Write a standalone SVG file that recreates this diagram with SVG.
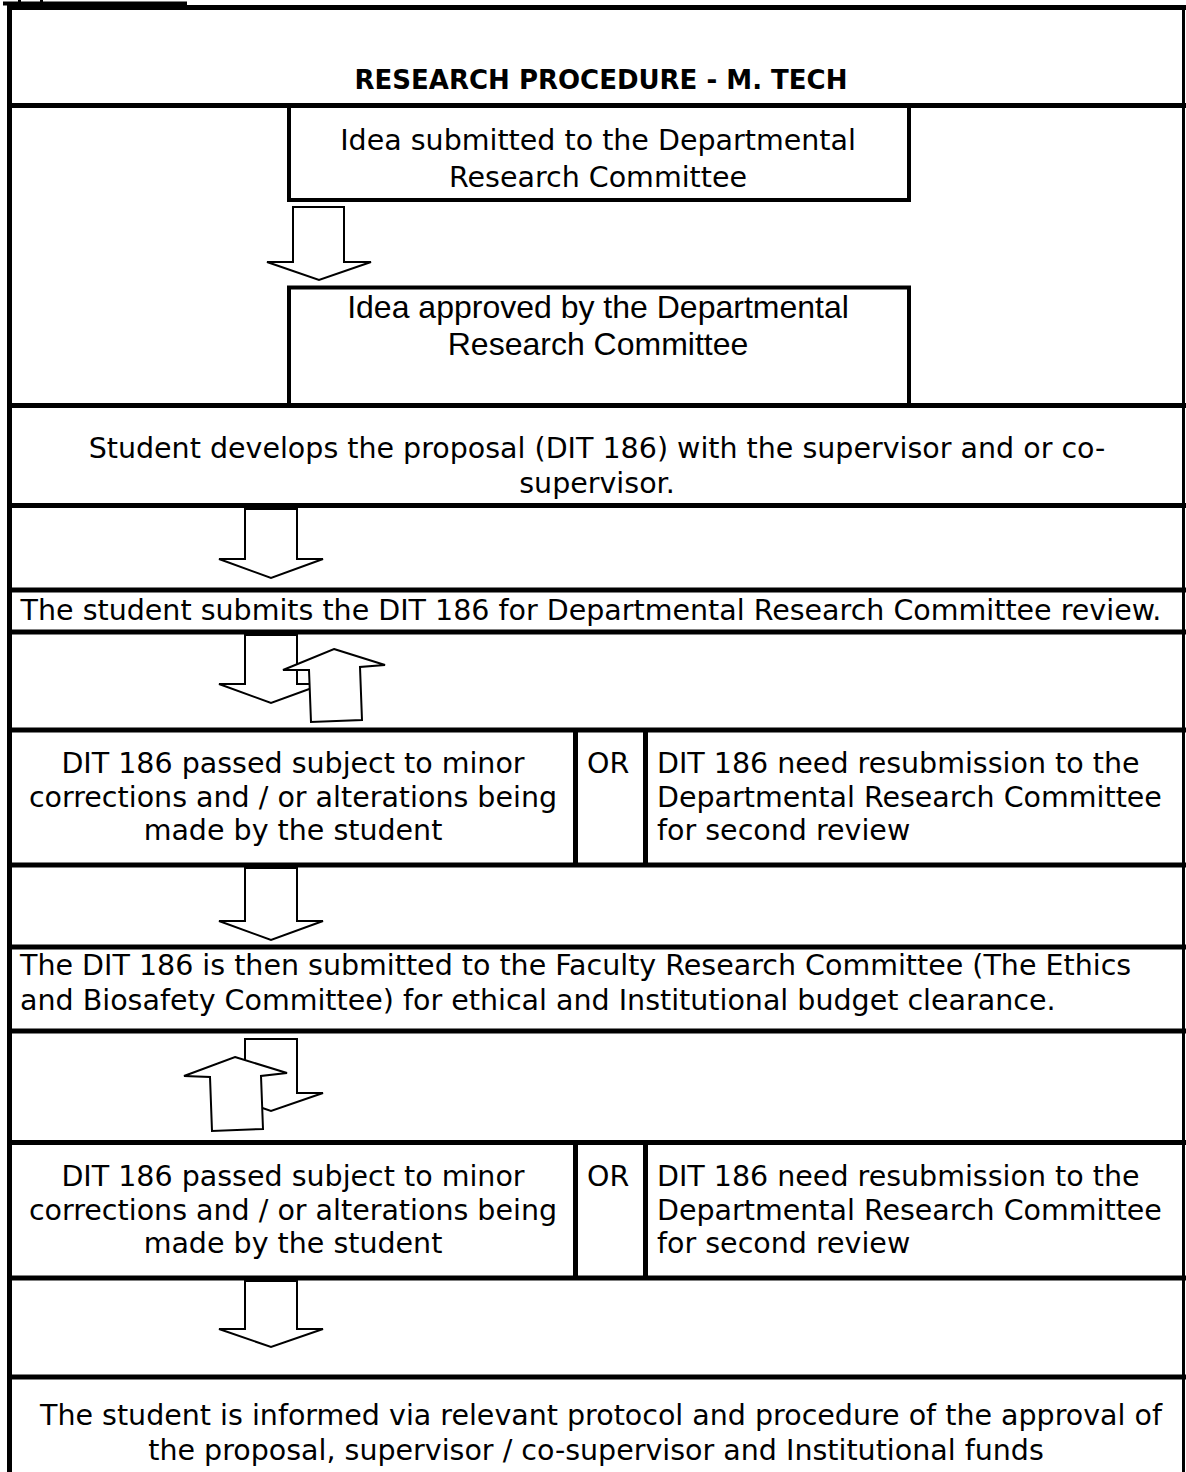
<svg xmlns="http://www.w3.org/2000/svg" width="1186" height="1472" viewBox="0 0 1186 1472">
<style>
.bg{fill:#fff}
.sep{stroke:#000;stroke-width:5;fill:none}
.vr{stroke:#000;stroke-width:5;fill:none}
.box{stroke:#000;stroke-width:4;fill:none}
.arrow{fill:#fff;stroke:#000;stroke-width:2;stroke-linejoin:miter}
.t{font-family:"DejaVu Sans","Liberation Sans",sans-serif;font-size:28.5px;fill:#000}
.c{text-anchor:middle}
.ar{font-family:"Liberation Sans",Arial,sans-serif;font-size:32px}
.ttl{font-weight:bold;font-size:26px}
</style>
<rect class="bg" x="0" y="0" width="1186" height="1472"/>
<g id="frame">
  <rect x="3" y="1.5" width="184" height="4" fill="#000"/>
  <rect x="18" y="0" width="3" height="2" fill="#000"/>
  <rect x="40" y="0" width="3" height="2" fill="#000"/>
  <line class="sep" x1="7" y1="7.5" x2="1186" y2="7.5"/>
  <line x1="9.5" y1="5" x2="9.5" y2="1472" stroke="#000" stroke-width="5"/>
  <line x1="1183.5" y1="5" x2="1183.5" y2="1472" stroke="#000" stroke-width="3"/>
  <line class="sep" x1="7" y1="105.5" x2="1186" y2="105.5"/>
  <line class="sep" x1="7" y1="405.5" x2="1186" y2="405.5"/>
  <line class="sep" x1="7" y1="505.5" x2="1186" y2="505.5"/>
  <line class="sep" x1="7" y1="590" x2="1186" y2="590"/>
  <line class="sep" x1="7" y1="632" x2="1186" y2="632"/>
  <line class="sep" x1="7" y1="730" x2="1186" y2="730"/>
  <line class="sep" x1="7" y1="865" x2="1186" y2="865"/>
  <line class="sep" x1="7" y1="947" x2="1186" y2="947"/>
  <line class="sep" x1="7" y1="1031" x2="1186" y2="1031"/>
  <line class="sep" x1="7" y1="1142.5" x2="1186" y2="1142.5"/>
  <line class="sep" x1="7" y1="1278" x2="1186" y2="1278"/>
  <line class="sep" x1="7" y1="1377" x2="1186" y2="1377"/>
</g>
<g id="title">
  <text class="t c ttl" x="601" y="89">RESEARCH PROCEDURE - M. TECH</text>
</g>
<g id="box-idea-submitted">
  <path class="box" d="M289 105 V200 H909 V105"/>
  <text class="t c" x="598" y="150">Idea submitted to the Departmental</text>
  <text class="t c" x="598" y="187">Research Committee</text>
</g>
<g id="box-idea-approved">
  <path class="box" d="M289 405 V287.5 H909 V405"/>
  <text class="t c ar" x="598" y="318">Idea approved by the Departmental</text>
  <text class="t c ar" x="598" y="355">Research Committee</text>
</g>
<g id="step-develop">
  <text class="t c" x="597" y="458">Student develops the proposal (DIT 186) with the supervisor and or co-</text>
  <text class="t c" x="597" y="493">supervisor.</text>
</g>
<g id="step-submit">
  <text class="t c" x="591" y="620">The student submits the DIT 186 for Departmental Research Committee review.</text>
</g>
<g id="review-dept">
  <line class="vr" x1="575.5" y1="730" x2="575.5" y2="865"/>
  <line class="vr" x1="645.5" y1="730" x2="645.5" y2="865"/>
  <text class="t c" x="293" y="773">DIT 186 passed subject to minor</text>
  <text class="t c" x="293" y="807">corrections and / or alterations being</text>
  <text class="t c" x="293" y="840">made by the student</text>
  <text class="t" x="587" y="773">OR</text>
  <text class="t" x="657" y="773">DIT 186 need resubmission to the</text>
  <text class="t" x="657" y="807">Departmental Research Committee</text>
  <text class="t" x="657" y="840">for second review</text>
</g>
<g id="step-faculty">
  <text class="t" x="20" y="975">The DIT 186 is then submitted to the Faculty Research Committee (The Ethics</text>
  <text class="t" x="20" y="1010">and Biosafety Committee) for ethical and Institutional budget clearance.</text>
</g>
<g id="review-faculty">
  <line class="vr" x1="575.5" y1="1142" x2="575.5" y2="1278"/>
  <line class="vr" x1="645.5" y1="1142" x2="645.5" y2="1278"/>
  <text class="t c" x="293" y="1186">DIT 186 passed subject to minor</text>
  <text class="t c" x="293" y="1220">corrections and / or alterations being</text>
  <text class="t c" x="293" y="1253">made by the student</text>
  <text class="t" x="587" y="1186">OR</text>
  <text class="t" x="657" y="1186">DIT 186 need resubmission to the</text>
  <text class="t" x="657" y="1220">Departmental Research Committee</text>
  <text class="t" x="657" y="1253">for second review</text>
</g>
<g id="step-informed">
  <text class="t c" x="601" y="1425">The student is informed via relevant protocol and procedure of the approval of</text>
  <text class="t c" x="596" y="1460">the proposal, supervisor / co-supervisor and Institutional funds</text>
</g>
<g id="connectors">
  <polygon class="arrow" points="293,207 344,207 344,262 371,262 319,280 267,262 293,262"/>
  <polygon class="arrow" points="245,509 297,509 297,559 323,559 271,578 219,559 245,559"/>
  <polygon class="arrow" points="245,635 297,635 297,684 323,684 271,703 219,684 245,684"/>
  <polygon class="arrow" points="334,649 385,665 360,667 362,720 311,722 309,670 283,670"/>
  <polygon class="arrow" points="245,868 297,868 297,921 323,921 271,940 219,921 245,921"/>
  <polygon class="arrow" points="245,1039 297,1039 297,1093 323,1093 271,1111 219,1093 245,1093"/>
  <polygon class="arrow" points="235,1057 287,1073 261,1076 263,1129 212,1131 210,1077 184,1076"/>
  <polygon class="arrow" points="245,1281 297,1281 297,1329 323,1329 271,1347 219,1329 245,1329"/>
</g>
</svg>
